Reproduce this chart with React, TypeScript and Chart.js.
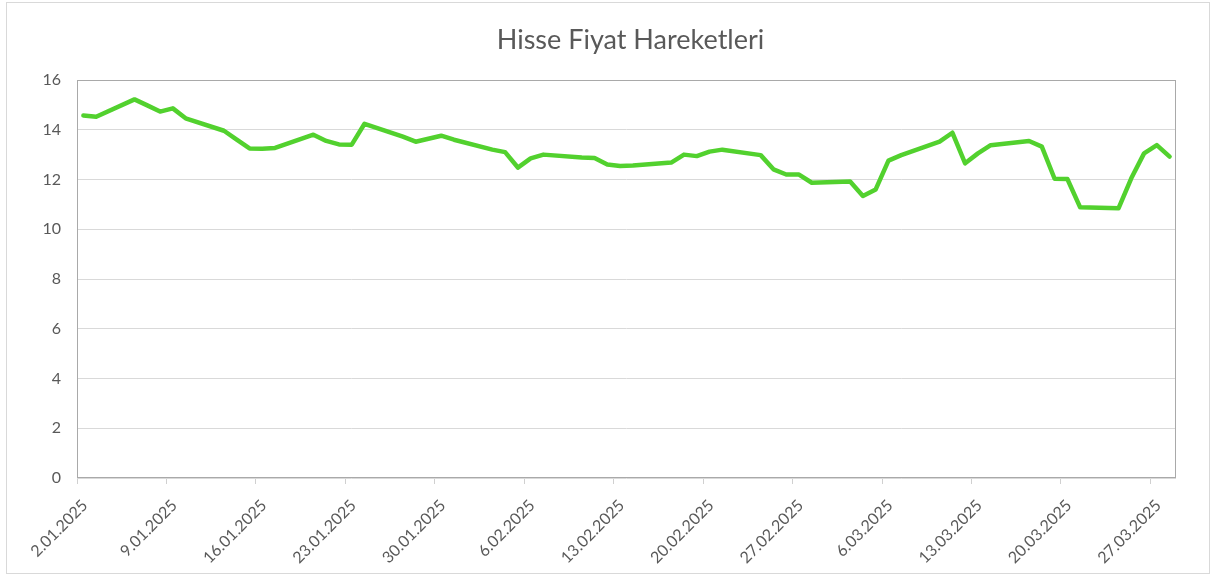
import { useEffect, useRef } from 'react';
import { Chart, registerables } from 'chart.js';

Chart.register(...registerables);

const TITLE = 'Hisse Fiyat Hareketleri';

const dates = [
  '2.01.2025', '3.01.2025', '6.01.2025', '7.01.2025', '8.01.2025', '9.01.2025', '10.01.2025',
  '13.01.2025', '14.01.2025', '15.01.2025', '16.01.2025', '17.01.2025',
  '20.01.2025', '21.01.2025', '22.01.2025', '23.01.2025', '24.01.2025',
  '27.01.2025', '28.01.2025', '29.01.2025', '30.01.2025', '31.01.2025',
  '3.02.2025', '4.02.2025', '5.02.2025', '6.02.2025', '7.02.2025',
  '10.02.2025', '11.02.2025', '12.02.2025', '13.02.2025', '14.02.2025',
  '17.02.2025', '18.02.2025', '19.02.2025', '20.02.2025', '21.02.2025',
  '24.02.2025', '25.02.2025', '26.02.2025', '27.02.2025', '28.02.2025',
  '3.03.2025', '4.03.2025', '5.03.2025', '6.03.2025', '7.03.2025',
  '10.03.2025', '11.03.2025', '12.03.2025', '13.03.2025', '14.03.2025',
  '17.03.2025', '18.03.2025', '19.03.2025', '20.03.2025', '21.03.2025',
  '24.03.2025', '25.03.2025', '26.03.2025', '27.03.2025', '28.03.2025',
];

const prices = [
  14.57, 14.52, 15.22, 14.98, 14.73, 14.86, 14.46,
  13.96, 13.6, 13.25, 13.24, 13.27,
  13.8, 13.55, 13.41, 13.4, 14.24,
  13.72, 13.52, 13.64, 13.76, 13.6,
  13.2, 13.1, 12.48, 12.85, 13.0,
  12.88, 12.86, 12.6, 12.54, 12.56,
  12.68, 13.0, 12.94, 13.12, 13.2,
  12.98, 12.41, 12.2, 12.2, 11.87,
  11.92, 11.34, 11.6, 12.76, 12.98,
  13.52, 13.88, 12.65, 13.05, 13.38,
  13.55, 13.32, 12.03, 12.02, 10.88,
  10.84, 12.05, 13.05, 13.38, 12.92,
];

const tickLabels = [
  '2.01.2025', '9.01.2025', '16.01.2025', '23.01.2025', '30.01.2025', '6.02.2025', '13.02.2025',
  '20.02.2025', '27.02.2025', '6.03.2025', '13.03.2025', '20.03.2025', '27.03.2025',
];

const START = '2.01.2025';
const END = '28.03.2025';

function toUTC(s: string): number {
  const [d, m, y] = s.split('.').map(Number);
  return Date.UTC(y, m - 1, d);
}
function dayIndex(s: string): number {
  return Math.round((toUTC(s) - toUTC(START)) / 86400000);
}

const TEXT = '#595959';
const FONT = 'Lato, "Open Sans", sans-serif';

const plotBorder = {
  id: 'plotBorder',
  beforeDatasetsDraw(chart: any) {
    const { ctx, chartArea } = chart;
    const { left, top, right, bottom } = chartArea;
    ctx.save();
    ctx.strokeStyle = '#a9a9a9';
    ctx.lineWidth = 1;
    ctx.strokeRect(Math.round(left) + 0.5, Math.round(top) + 0.5, Math.round(right - left) - 1, Math.round(bottom - top) - 1);
    ctx.restore();
  },
};

const titleText = {
  id: 'titleText',
  afterDraw(chart: any) {
    const { ctx, chartArea } = chart;
    ctx.save();
    ctx.fillStyle = TEXT;
    ctx.font = `normal 27px ${FONT}`;
    ctx.textAlign = 'center';
    ctx.textBaseline = 'middle';
    ctx.fillText(TITLE, (chartArea.left + chartArea.right) / 2 + 4, 40);
    ctx.restore();
  },
};

export default function App() {
  const canvasRef = useRef<HTMLCanvasElement | null>(null);

  useEffect(() => {
    const canvas = canvasRef.current;
    if (!canvas) return;
    const points = dates.map((d, i) => ({ x: dayIndex(d), y: prices[i] }));
    const tickMap = new Map<number, string>();
    tickLabels.forEach((t) => tickMap.set(dayIndex(t) - 0.5, t));
    const lastDay = dayIndex(END);

    const chart = new Chart(canvas, {
      type: 'line',
      data: {
        datasets: [
          {
            label: TITLE,
            data: points,
            borderColor: '#52d12e',
            backgroundColor: '#52d12e',
            borderWidth: 4.5,
            pointRadius: 0,
            pointHoverRadius: 0,
            tension: 0,
            borderJoinStyle: 'round',
            borderCapStyle: 'round',
            fill: false,
          },
        ],
      },
      options: {
        animation: false,
        responsive: false,
        maintainAspectRatio: false,
        devicePixelRatio: 1,
        layout: { padding: { left: 0, right: 35, top: 80, bottom: 0 } },
        plugins: {
          legend: { display: false },
          tooltip: { enabled: false },
          title: { display: false },
        },
        scales: {
          x: {
            type: 'linear',
            min: -0.5,
            max: lastDay + 0.5,
            afterFit(scale: any) {
              scale.height = 105;
            },
            afterBuildTicks(scale: any) {
              scale.ticks = Array.from(tickMap.keys()).map((v) => ({ value: v }));
            },
            grid: {
              drawOnChartArea: false,
              drawTicks: true,
              tickLength: 6,
              color: '#d0d0d0',
            },
            border: { display: false },
            ticks: {
              autoSkip: false,
              maxRotation: 45,
              minRotation: 45,
              padding: 12,
              labelOffset: 8,
              color: TEXT,
              font: { family: FONT, size: 16 },
              callback: (value: any) => tickMap.get(Number(value)) ?? '',
            },
          },
          y: {
            min: 0,
            max: 16,
            afterFit(scale: any) {
              scale.width = 77;
            },
            grid: {
              color: '#d9d9d9',
              drawTicks: false,
            },
            border: { display: false },
            ticks: {
              stepSize: 2,
              padding: 16,
              color: TEXT,
              font: { family: FONT, size: 16 },
            },
          },
        },
      },
      plugins: [plotBorder, titleText],
    });
    return () => chart.destroy();
  }, []);

  return (
    <div style={{ position: 'fixed', left: 0, top: 0, width: 1211, height: 583, background: '#fff' }}>
      <canvas ref={canvasRef} width={1211} height={583} style={{ display: 'block', width: 1211, height: 583 }} />
      <div
        style={{
          position: 'absolute',
          left: 6,
          top: 2,
          width: 1202,
          height: 570,
          border: '1px solid #d9d9d9',
          pointerEvents: 'none',
        }}
      />
    </div>
  );
}
